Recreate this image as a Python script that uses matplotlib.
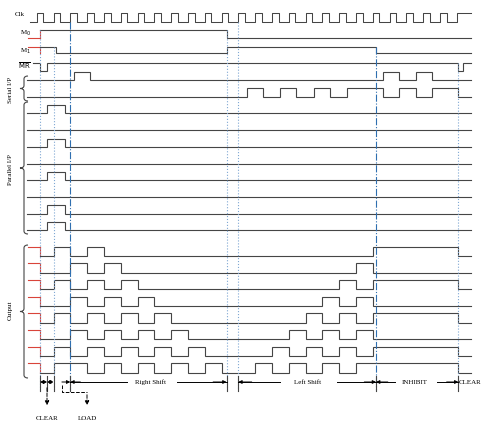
import matplotlib
matplotlib.use('Agg')
import matplotlib.pyplot as plt
from matplotlib.path import Path
from matplotlib.patches import PathPatch

# ---------------- data (time in clock periods) ----------------
clk_rise = [0, 1, 2, 3, 4, 5, 6, 7, 8, 9, 10, 11, 12, 13, 14, 15, 16, 17, 18, 19, 20, 21, 22, 23, 24, 25]
clk_high = 0.4

m0_init, m0_toggles = 1, [11.3]
m1_init, m1_toggles = 1, [1.15, 11.3, 20.2]
mr_init, mr_toggles = 1, [0.2, 0.6, 25.1, 25.4]

dsr_toggles = [2.2, 3.2, 20.6, 21.55, 22.6, 23.55]
dsl_toggles = [12.5, 13.45, 14.5, 15.45, 16.5, 17.45, 18.45, 20.6, 21.55, 22.6, 23.55, 25.1]

parallel_bits = [1, 0, 1, 0, 1, 0, 1, 1]
parallel_pulse = [0.62, 1.68]

output_toggles = [
    [1, 2, 3, 4, 20, 25.1],
    [2, 3, 4, 5, 19, 20],
    [1, 2, 3, 4, 5, 6, 18, 19, 20, 25.1],
    [2, 3, 4, 5, 6, 7, 17, 18, 19, 20],
    [1, 2, 3, 4, 5, 6, 7, 8, 16, 17, 18, 19, 20, 25.1],
    [2, 3, 4, 5, 6, 7, 8, 9, 15, 16, 17, 18, 19, 20],
    [1, 2, 3, 4, 5, 6, 7, 8, 9, 10, 14, 15, 16, 17, 18, 19, 20, 25.1],
    [1, 3, 4, 5, 6, 7, 8, 9, 10, 11, 13, 14, 15, 16, 17, 18, 19, 25.1],
]

guide_times = [0.2, 1.0, 2.0, 11.3, 12.0, 20.2, 25.1]
phase_labels = ['Right Shift', 'Left Shift', 'INHIBIT', 'CLEAR']

# ---------------- layout ----------------
W, H = 482, 424
P, X0 = 16.8, 36.7
T0, T1 = -0.55, 25.85
LC = '#454545'
RED = '#d9443a'
LW = 0.8

fig = plt.figure(figsize=(W / 100, H / 100), dpi=100)
ax = fig.add_axes([0, 0, 1, 1])
ax.set_xlim((0 - X0) / P, (W - X0) / P)
ax.set_ylim(H, 0)
ax.axis('off')

def xp(p):
    return (p - X0) / P

def wave(t0, t1, init, toggles, ylow, amp, color=LC, lw=LW):
    lvl = init
    xs, ys = [t0], [ylow - amp * lvl]
    for tt in toggles:
        if tt <= t0 or tt >= t1:
            continue
        xs += [tt, tt]
        ys += [ylow - amp * lvl, ylow - amp * (1 - lvl)]
        lvl = 1 - lvl
    xs.append(t1)
    ys.append(ylow - amp * lvl)
    ax.plot(xs, ys, color=color, lw=lw, solid_joinstyle='miter')

def red_mark(ylow, amp, high=True):
    yh = ylow - amp
    y = yh if high else ylow
    ax.plot([T0 + 0.05, 0.2], [y, y], color=RED, lw=LW)
    ax.plot([0.2, 0.2], [yh, ylow], color=RED, lw=LW)

# clock
cx, cy = [-0.4], [21.7]
for r in clk_rise:
    if r != clk_rise[-1]:
        cx += [r, r, r + clk_high, r + clk_high]
        cy += [21.7, 13.3, 13.3, 21.7]
    else:
        cx += [r, r]
        cy += [21.7, 13.3]
cx.append(T1)
cy.append(13.3)
ax.plot(cx, cy, color=LC, lw=0.75)

# mode lines
red_mark(38, 8, high=False)
wave(0.2, T1, m0_init, m0_toggles, 38, 8)
red_mark(53.3, 6.6, high=True)
wave(0.2, T1, m1_init, m1_toggles, 53.3, 6.6)
wave(T0 + 0.3, T1, mr_init, mr_toggles, 70.7, 7.4)

# serial
wave(T0, T1, 0, dsr_toggles, 80, 8.3)
wave(T0, T1, 0, dsl_toggles, 96.7, 8.3)

# parallel
par_lows = [113.3, 130.3, 147, 163.7, 180.3, 197, 213.7, 230.3]
for b, yl in zip(parallel_bits, par_lows):
    wave(T0, T1, 0, parallel_pulse if b else [], yl, 8.3)

# outputs
out_lows = [256, 272.7, 289.3, 306, 322.7, 339.3, 356, 372.7]
for tg, yl in zip(output_toggles, out_lows):
    red_mark(yl, 9.3, high=True)
    wave(0.2, T1, 0, tg, yl, 9.3)

# guide lines
guide_top = [30, 47, 22, 30, 22, 47, 63]
guide_sty = [':', ':', '-.', ':', ':', '-.', ':']
guide_col = ['#7fa7d3', '#7fa7d3', '#2f6fb0', '#7fa7d3', '#7fa7d3', '#2f6fb0', '#7fa7d3']
for t, yt, ls, c in zip(guide_times, guide_top, guide_sty, guide_col):
    ax.plot([t, t], [yt, 390], color=c, lw=0.8, ls=ls)

# labels
ff = 'Liberation Serif'
fs = 5
ax.text(xp(15), 15, 'Clk', fontsize=fs, family=ff, va='center', ha='left')
ax.text(xp(20), 33.5, r'M$_0$', fontsize=fs, family=ff, va='center', ha='left')
ax.text(xp(20), 51.5, r'M$_1$', fontsize=fs, family=ff, va='center', ha='left')
ax.text(xp(18), 65.5, r'$\overline{\mathrm{MR}}$', fontsize=fs, family=ff, va='center', ha='left')
ax.text(xp(10), 90, 'Serial I/P', fontsize=fs, family=ff, va='center', ha='center', rotation=90)
ax.text(xp(11), 170, 'Parallel I/P', fontsize=fs, family=ff, va='center', ha='center', rotation=90)
ax.text(xp(10), 310, 'Output', fontsize=fs, family=ff, va='center', ha='center', rotation=90)

def brace(xpx, y0, y1, w=4):
    ym = (y0 + y1) / 2
    r = 3
    verts = [(xp(xpx + w), y0), (xp(xpx), y0), (xp(xpx), y0 + r),
             (xp(xpx), ym - r), (xp(xpx), ym), (xp(xpx - w), ym),
             (xp(xpx), ym), (xp(xpx), ym + r),
             (xp(xpx), y1 - r), (xp(xpx), y1), (xp(xpx + w), y1)]
    codes = [Path.MOVETO, Path.CURVE3, Path.CURVE3,
             Path.LINETO, Path.CURVE3, Path.CURVE3,
             Path.CURVE3, Path.CURVE3,
             Path.LINETO, Path.CURVE3, Path.CURVE3]
    ax.add_patch(PathPatch(Path(verts, codes), fill=False, color=LC, lw=0.8))

brace(24, 76, 101)
brace(24, 102, 234)
brace(24, 245, 378)

# bottom annotations
ya = 382
for t in [0.2, 0.62, 1.0, 2.0, 11.3, 12.0, 20.2, 25.1]:
    ax.plot([t, t], [376, 391], color=LC, lw=0.8)

def arr(t0, t1):
    ax.annotate('', xy=(t1, ya), xytext=(t0, ya),
                arrowprops=dict(arrowstyle='-|>', color='black', lw=0.7, mutation_scale=5,
                                shrinkA=0, shrinkB=0))

arr(0.4, 0.2); arr(0.42, 0.62)
arr(0.8, 0.62); arr(0.8, 1.0)
arr(1.5, 2.0); arr(2.6, 2.0)
ax.plot([2.0, 5.4], [ya, ya], color='black', lw=0.7)
ax.text(6.8, ya, phase_labels[0], fontsize=fs, family=ff, va='center', ha='center')
ax.plot([8.35, 11.3], [ya, ya], color='black', lw=0.7)
arr(10.5, 11.3)
arr(12.8, 12.0)
ax.plot([12.0, 14.5], [ya, ya], color='black', lw=0.7)
ax.text(16.1, ya, phase_labels[1], fontsize=fs, family=ff, va='center', ha='center')
ax.plot([17.9, 20.2], [ya, ya], color='black', lw=0.7)
arr(19.5, 20.2); arr(20.9, 20.2)
ax.plot([20.2, 21.3], [ya, ya], color='black', lw=0.7)
ax.text(22.5, ya, phase_labels[2], fontsize=fs, family=ff, va='center', ha='center')
ax.plot([23.8, 25.1], [ya, ya], color='black', lw=0.7)
arr(24.4, 25.1)
ax.text(xp(481), ya, phase_labels[3], fontsize=fs, family=ff, va='center', ha='right')

# dashed callouts
xa = xp(47)
ax.annotate('', xy=(xa, 408), xytext=(xa, 385),
            arrowprops=dict(arrowstyle='-|>', color='black', lw=0.7, ls='--', mutation_scale=6))
ax.text(xa, 418, 'CLEAR', fontsize=fs, family=ff, va='center', ha='center')
xl0, xl1 = xp(62), xp(87)
ax.plot([xl0, xl0, xl1], [385, 392, 392], color='black', lw=0.7, ls='--')
ax.annotate('', xy=(xl1, 408), xytext=(xl1, 392),
            arrowprops=dict(arrowstyle='-|>', color='black', lw=0.7, ls='--', mutation_scale=6))
ax.text(xl1, 418, 'LOAD', fontsize=fs, family=ff, va='center', ha='center')

fig.savefig('out.png', dpi=100)
